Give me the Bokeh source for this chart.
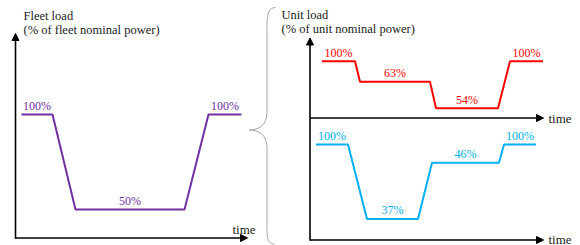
from bokeh.plotting import figure
from bokeh.models import Range1d, Arrow, NormalHead
from bokeh.core.properties import value
from bokeh.embed import file_html
from bokeh.resources import INLINE

# ---------------- data (schematic) ----------------
# time in arbitrary units; "level" is the drawn height of each step
# (100 = height of the 100 % line in that panel); load_pct are the printed values
fleet_time = [0.6, 3.7, 6.0, 16.9, 19.3, 22.6]
fleet_level = [100, 100, 23, 23, 100, 100]
fleet_load_pct = [100, 50, 100]

unit_a_time = [1.2, 4.5, 5.0, 12.0, 12.6, 18.8, 20.0, 23.3]
unit_a_level = [100, 100, 64, 64, 17, 17, 100, 100]
unit_a_load_pct = [100, 63, 54, 100]

unit_b_time = [0.6, 3.8, 5.7, 10.8, 12.2, 18.9, 19.4, 22.6]
unit_b_level = [100, 100, 22, 22, 81, 81, 100, 100]
unit_b_load_pct = [100, 37, 46, 100]

titles_fleet = ["Fleet load", "(% of fleet nominal power)"]
titles_unit = ["Unit load", "(% of unit nominal power)"]
axis_label = "time"

# ---------------- layout ----------------
W, H = 580, 245
LX = (0, 580)       # layout coordinates (x, px-like)
LY = (245, 0)       # layout coordinates (y grows downward)
FONT = value("Liberation Serif")

p = figure(width=W, height=H,
           x_range=Range1d(start=LX[0], end=LX[1]),
           y_range=Range1d(start=LY[0], end=LY[1]),
           x_axis_location=None, y_axis_location=None,
           output_backend="svg", toolbar_location=None, min_border=0)
p.grid.visible = False
p.outline_line_color = None
p.background_fill_color = "white"


def mapped_range(lay, d0, l0, d1, l1):
    k = (l1 - l0) / (d1 - d0)
    return Range1d(start=d0 + (lay[0] - l0) / k, end=d0 + (lay[1] - l0) / k)


PX_PER_T = 10
panels = [
    # name, time, level, pct, color, x origin, y of base, y of 100 line
    ("fleet", fleet_time, fleet_level, fleet_load_pct, "#7030A0", 15, 237.5, 114),
    ("unit_a", unit_a_time, unit_a_level, unit_a_load_pct, "#FF0000", 309.5, 117.5, 60.7),
    ("unit_b", unit_b_time, unit_b_level, unit_b_load_pct, "#00B0F0", 309.5, 239.5, 144),
]

for name, t, lvl, pct, col, x0, yb, yf in panels:
    p.extra_x_ranges[name] = mapped_range(LX, 0, x0, 1, x0 + PX_PER_T)
    p.extra_y_ranges[name] = mapped_range(LY, 0, yb, 100, yf)
    p.line(t, lvl, x_range_name=name, y_range_name=name,
           line_color=col, line_width=2)
    mids = [(t[2 * i] + t[2 * i + 1]) / 2 for i in range(len(pct))]
    ys = [lvl[2 * i] for i in range(len(pct))]
    p.text(x=mids, y=ys, text=[f"{v}%" for v in pct],
           x_range_name=name, y_range_name=name,
           text_align="center", text_baseline="middle", y_offset=-8.5,
           text_font=FONT, text_font_size="12px", text_color=col)

# ---------------- axes (arrows) ----------------
def arrow(xs, ys, xe, ye):
    p.add_layout(Arrow(x_start=xs, y_start=ys, x_end=xe, y_end=ye,
                       line_color="black", line_width=1.6,
                       end=NormalHead(size=7, fill_color="black",
                                      line_color="black", line_width=1)))

arrow(15, 238.3, 15, 33)
arrow(15, 237.5, 247, 237.5)
arrow(309.5, 240.2, 309.5, 37.5)
arrow(309.5, 117.5, 543, 117.5)
arrow(309.5, 239.5, 543, 239.5)

p.text(x=[232, 548, 548], y=[228.5, 117.5, 238.5], text=[axis_label] * 3,
       text_align="left", text_baseline="middle",
       text_font=FONT, text_font_size="13px", text_color="#222222")

# titles
p.text(x=[23, 23], y=[15.5, 29.5], text=titles_fleet, text_align="left",
       text_baseline="middle", text_font=FONT, text_font_size="12.5px",
       text_color="#222222")
p.text(x=[281, 281], y=[14.5, 28.5], text=titles_unit, text_align="left",
       text_baseline="middle", text_font=FONT, text_font_size="12.5px",
       text_color="#222222")

# ---------------- curly brace ----------------
BR = "#a6a6a6"
bx, tip = 266.5, 248.5
p.bezier(x0=[275, bx, tip, bx], y0=[7, 112, 129.5, 229],
         x1=[bx, tip, bx, 274], y1=[25, 129.5, 147, 243.5],
         cx0=[268.5, bx, 258, bx], cy0=[7, 125, 129.5, 239],
         cx1=[bx, 258, bx, 268], cy1=[13, 129.5, 134, 243.5],
         line_color=BR, line_width=1)
p.segment(x0=[bx, bx], y0=[25, 147], x1=[bx, bx], y1=[112, 229],
          line_color=BR, line_width=1)

open("out.html", "w").write(file_html(p, INLINE))
